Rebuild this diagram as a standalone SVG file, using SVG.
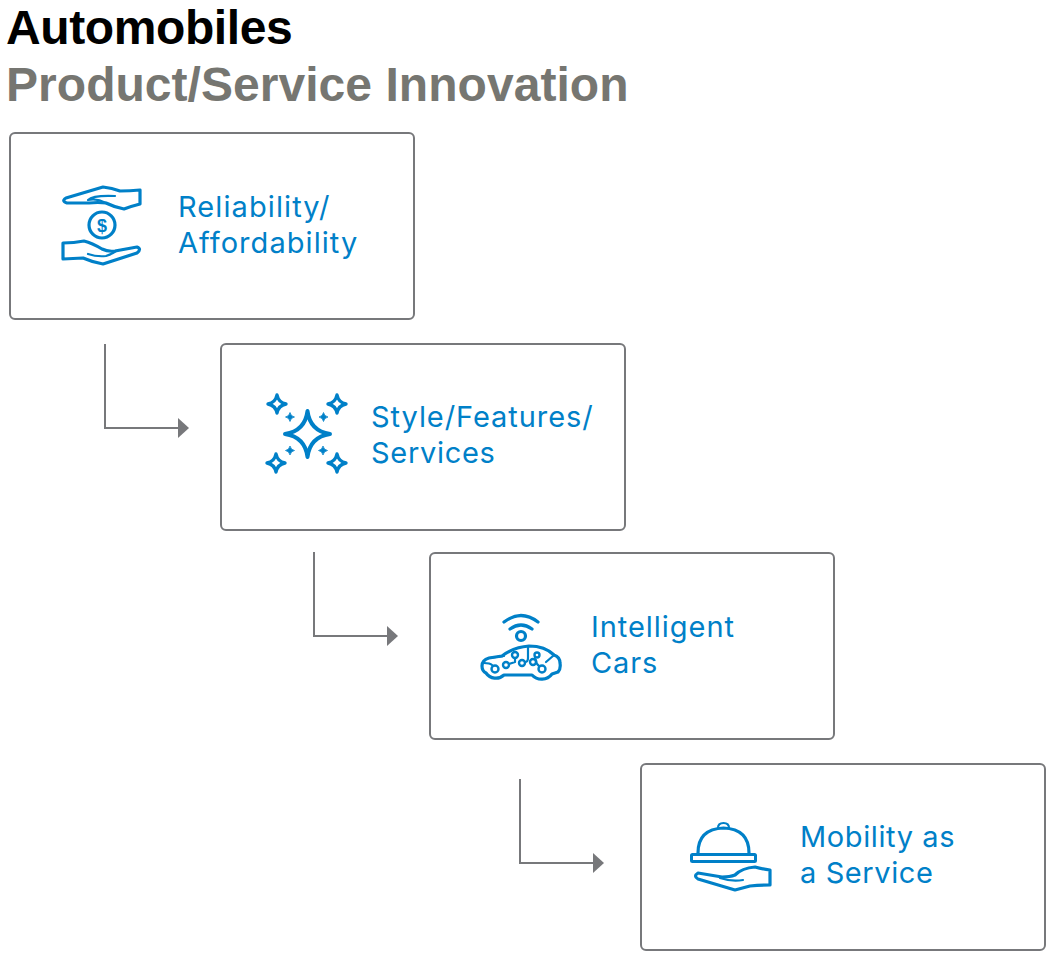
<svg xmlns="http://www.w3.org/2000/svg" width="1057" height="958" viewBox="0 0 1057 958">
<style>
.box{fill:#fff;stroke:#77787b;stroke-width:2}
.lbl{font:29px "Inter","Liberation Sans",sans-serif;fill:#0080c8;letter-spacing:.6px}
.ic{fill:none;stroke:#0080c8;stroke-width:3.2;stroke-linejoin:round;stroke-linecap:round}
.ict{fill:none;stroke:#0080c8;stroke-width:2.2;stroke-linejoin:round;stroke-linecap:round}
.t{font-family:"Liberation Sans",Arial,sans-serif;font-weight:700;font-size:48px}
.conn{fill:none;stroke:#77787b;stroke-width:2}
</style>
<defs>
<marker id="arr" markerUnits="userSpaceOnUse" markerWidth="12" markerHeight="20" refX="1" refY="10" orient="auto"><path d="M0 0L11 10L0 20Z" fill="#77787b"/></marker>
<path id="star" d="M0-9Q1.500-1.500 9 0Q1.500 1.500 0 9Q-1.500 1.500-9 0Q-1.500-1.500 0-9Z"/>
</defs>
<text class="t" x="6" y="44" fill="#000" letter-spacing="-.4">Automobiles</text>
<text class="t" x="6" y="101" fill="#767671" letter-spacing="0.04">Product/Service Innovation</text>
<g id="connectors">
<path class="conn" d="M105 344V428H179" marker-end="url(#arr)"/>
<path class="conn" d="M314 552V636H388" marker-end="url(#arr)"/>
<path class="conn" d="M520 779V863H594" marker-end="url(#arr)"/>
</g>
<g id="node-reliability">
<rect class="box" x="10" y="133" width="404" height="186" rx="5"/>
<g>
<path class="ic" d="M140 190V204Q132 206 124 209Q114 207 106 203Q98 202 89 203L67 203Q61 201 66 198L103 187Q112 188 120 191Q130 191 140 190Z"/>
<path class="ict" d="M88 200Q93 195 115 196M88 200Q97 198 106 203"/>
<circle class="ic" cx="102" cy="225" r="13"/>
<text x="102" y="231.500" text-anchor="middle" style="font:700 18px 'Liberation Sans',sans-serif;fill:#0080c8">$</text>
<path class="ic" d="M63 243V259L83 258Q92 262 103 264L137 253Q142 249 137 247L115 251Q108 252 102 249Q92 243 84 241Q74 243 63 243Z"/>
<path class="ict" d="M88 254Q97 257 106 256Q112 254 116 251"/>
</g>
<text class="lbl"><tspan x="178" y="217" letter-spacing="1.1">Reliability/</tspan><tspan x="178" y="253" letter-spacing="1.06">Affordability</tspan></text>
</g>
<g id="node-style">
<rect class="box" x="221" y="344" width="404" height="186" rx="5"/>
<g>
<path d="M307.500 411Q310 431 330 434Q310 437 307.500 457Q305 437 285 434Q305 431 307.500 411Z" fill="none" stroke="#0080c8" stroke-width="4" stroke-linejoin="round"/>
<g fill="none" stroke="#0080c8" stroke-width="3.400" stroke-linejoin="round">
<use href="#star" transform="translate(277 404)"/>
<use href="#star" transform="translate(337 404)"/>
<use href="#star" transform="translate(276 463)"/>
<use href="#star" transform="translate(337 463)"/>
</g>
<g fill="#0080c8" stroke="#0080c8" stroke-width="1.500" stroke-linejoin="round">
<use href="#star" transform="translate(290 417) scale(.5)"/>
<use href="#star" transform="translate(323.500 417) scale(.5)"/>
<use href="#star" transform="translate(290 450.500) scale(.5)"/>
<use href="#star" transform="translate(323 450.500) scale(.5)"/>
</g>
</g>
<text class="lbl"><tspan x="371" y="427" letter-spacing=".93">Style/Features/</tspan><tspan x="371" y="463" letter-spacing=".7">Services</tspan></text>
</g>
<g id="node-cars">
<rect class="box" x="430" y="553" width="404" height="186" rx="5"/>
<g>
<path class="ic" d="M504 622Q521 609 538 622"/>
<path class="ic" d="M510 629Q521 621 532 629"/>
<circle class="ic" cx="521" cy="636" r="4.500"/>
<path class="ic" d="M486 673Q482 671 482 666Q482 660 489 658L502 656Q514 647 529 646Q545 646 554 655Q560 657 560 663Q561 669 558 672L552 674A13 13 0 0 1 532 675H504A12 12 0 0 1 486 673Z"/>
<path class="ict" d="M489 658L504 656M528 646V658Q528 662 525 662M515 658V662L509 664M535 658L536 657M536 660Q536 664 539 666M546 662L553 656M484 663Q490 663 492 665"/>
<g fill="#fff" stroke="#0080c8" stroke-width="2.400">
<circle cx="495" cy="669" r="3.500"/><circle cx="506" cy="665" r="3"/><circle cx="515" cy="655" r="3"/><circle cx="522" cy="663" r="3"/><circle cx="533" cy="662" r="3"/><circle cx="537" cy="655" r="2.500"/><circle cx="542" cy="669" r="3.500"/>
</g>
</g>
<text class="lbl"><tspan x="591" y="637" letter-spacing=".96">Intelligent</tspan><tspan x="591" y="673" letter-spacing=".85">Cars</tspan></text>
</g>
<g id="node-maas">
<rect class="box" x="641" y="764" width="404" height="186" rx="5"/>
<g>
<path class="ic" d="M698 853Q698 829 723.500 828Q749 829 749 853"/>
<path class="ict" d="M718 828Q718 823 723.500 823Q729 823 729 828"/>
<rect x="691.500" y="854.500" width="64" height="7" rx="1" fill="none" stroke="#0080c8" stroke-width="3"/>
<path class="ic" d="M770 870V885Q760 885 750 886L735 890L698 879Q693 876 698 873L722 877Q730 877 735 875Q742 868 755 867Q762 869 770 870Z"/>
<path class="ict" d="M720 878Q732 882 743 880"/>
</g>
<text class="lbl"><tspan x="800" y="847">Mobility as</tspan><tspan x="800" y="883">a Service</tspan></text>
</g>
</svg>
